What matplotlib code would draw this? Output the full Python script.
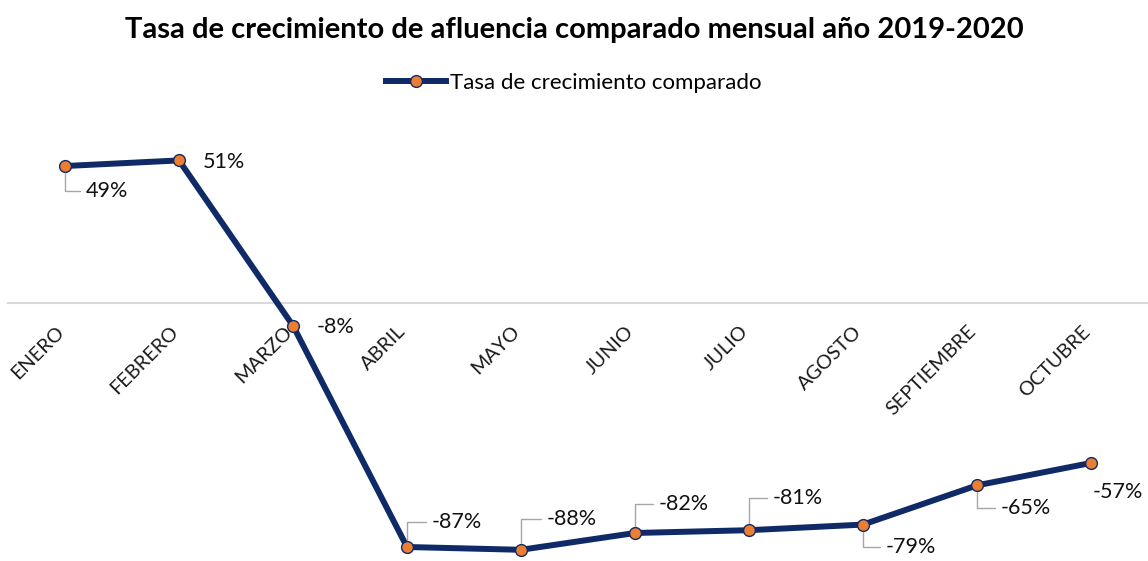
import numpy as np
import matplotlib
matplotlib.use('Agg')
import matplotlib.pyplot as plt
from matplotlib.transforms import ScaledTranslation

# Datos
meses = ['ENERO', 'FEBRERO', 'MARZO', 'ABRIL', 'MAYO', 'JUNIO',
         'JULIO', 'AGOSTO', 'SEPTIEMBRE', 'OCTUBRE']
tasa = [49, 51, -8, -87, -88, -82, -81, -79, -65, -57]
etiquetas = ['49%', '51%', '-8%', '-87%', '-88%', '-82%', '-81%', '-79%', '-65%', '-57%']

# Posicion de las etiquetas (pixeles) y si llevan linea guia
offsets = [(21, -25), (24, -2), (24, -1), (25, 25), (26, 31),
           (24, 29), (24, 32), (23, -22), (24, -23), (2, -29)]
guia = [True, False, False, True, True, True, True, True, True, False]

plt.rcParams['font.family'] = ['Lato', 'DejaVu Sans']

azul = '#0f2a66'
naranja = '#ed7d31'

fig = plt.figure(figsize=(11.48, 5.61), dpi=100)
ax = fig.add_axes([8 / 1148, 0, 1140 / 1148, 451 / 561])

# Eje horizontal en y=0 (antes de poner las etiquetas)
for s in ['top', 'right', 'left']:
    ax.spines[s].set_visible(False)
ax.spines['bottom'].set_position(('data', 0))
ax.spines['bottom'].set_color('#d9d9d9')
ax.spines['bottom'].set_linewidth(1.5)

x = np.arange(len(meses))
ax.plot(x, tasa, color=azul, linewidth=4.3, marker='o', markersize=8.5,
        markerfacecolor=naranja, markeredgecolor=azul, markeredgewidth=1,
        label='Tasa de crecimiento comparado', zorder=3)

for i, (v, t) in enumerate(zip(tasa, etiquetas)):
    props = None
    if guia[i]:
        props = dict(arrowstyle='-', color='#a6a6a6', lw=1,
                     connectionstyle='angle,angleA=0,angleB=90,rad=0',
                     shrinkA=2, shrinkB=5)
    ax.annotate(t, (i, v), xytext=offsets[i], textcoords='offset pixels',
                ha='left', va='center', fontsize=15.5, color='#111111',
                arrowprops=props)

ax.set_xlim(-0.5, len(meses) - 0.5)
ax.set_ylim(-92, 69)
ax.set_yticks([])
ax.set_xticks(x)
ax.set_xticklabels(meses, rotation=45, ha='right', rotation_mode='anchor',
                   fontsize=14.3, color='#1a1a1a')
ax.tick_params(axis='x', length=0, pad=14)
# desplazar un poco las etiquetas a la izquierda
shift = ScaledTranslation(-10 / 100, 0, fig.dpi_scale_trans)
for lab in ax.get_xticklabels():
    lab.set_transform(lab.get_transform() + shift)
ax.patch.set_alpha(0)

fig.suptitle('Tasa de crecimiento de afluencia comparado mensual año 2019-2020',
             fontsize=21, fontweight='bold', y=1 - 30 / 561, va='center')
fig.legend(loc='center', bbox_to_anchor=(0.5, 1 - 83 / 561), frameon=False,
           fontsize=16, handlelength=2.7, handletextpad=0.2)

fig.savefig('out.png', dpi=100)
